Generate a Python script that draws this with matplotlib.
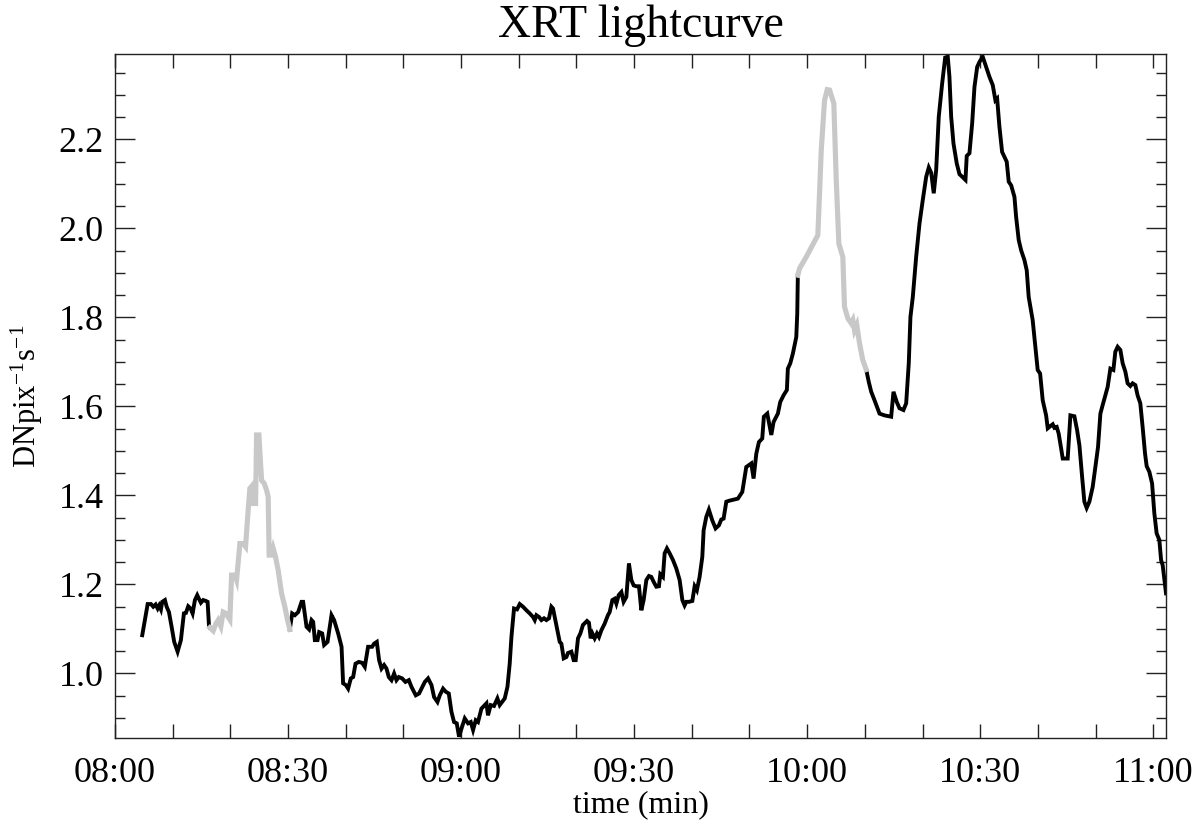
import numpy as np
import matplotlib
matplotlib.use("Agg")
import matplotlib.pyplot as plt
from matplotlib.ticker import MultipleLocator, FixedLocator, FixedFormatter

# ---- data: minutes after 08:00 and XRT intensity (DN pix^-1 s^-1) ----
minutes = [
    4.73, 5.67, 6.24, 6.64, 7.05, 7.40, 7.67, 7.97, 8.19, 8.66, 8.96, 9.36, 9.82, 10.27, 10.86,
    11.43, 11.95, 12.30, 12.70, 13.11, 13.46, 13.86, 14.26, 14.55, 14.90, 15.30, 15.77, 16.06,
    16.29, 16.46,
    17.03, 17.50, 17.90, 18.36, 18.76, 19.23, 19.92, 20.22, 20.79, 21.08, 21.66, 22.23, 22.64,
    23.09, 23.39, 23.79, 23.96, 24.38, 24.55, 24.95, 25.17, 25.42, 25.87, 26.28, 26.56, 26.73,
    27.15, 27.43, 27.84, 28.29, 28.88, 29.45, 29.92, 30.32,
    30.72, 31.19, 31.76, 32.35, 32.62, 33.21, 33.66, 34.08, 34.36, 34.65, 35.12, 35.40, 35.92,
    36.26, 36.85, 37.54, 37.99, 38.69, 39.28, 39.55, 40.02, 40.42, 40.89, 41.29, 41.70, 42.27,
    42.85, 43.31, 43.88, 44.58, 44.92, 45.39, 45.79, 46.21, 46.66, 47.07, 47.47, 47.94, 48.39,
    48.80, 49.20, 49.78, 50.36, 50.94, 51.40, 52.15, 52.72, 53.14, 53.71, 54.28, 54.87, 55.32,
    55.91, 56.31, 56.88, 57.35, 57.87, 58.33, 58.78, 59.25, 59.65, 60.07, 60.64, 61.21, 61.68,
    62.08, 62.54, 62.94, 63.53, 64.10, 64.40, 64.67, 65.14, 65.71, 66.30, 66.70, 67.10, 67.57,
    68.04, 68.43, 68.73, 69.18, 69.70, 70.17, 70.74, 71.33, 71.90, 72.47, 72.77, 73.06, 73.51,
    73.93, 74.38, 74.79, 75.24, 75.66, 75.94, 76.40, 76.80, 77.10, 77.39, 77.79, 78.26, 78.53,
    79.12, 79.52, 79.87, 80.27, 80.68, 81.13, 81.83, 82.17, 82.47, 82.76, 83.16, 83.56, 83.91,
    84.32, 84.89, 85.46, 85.76, 86.23, 86.63, 86.92, 87.32, 87.79, 88.18, 88.65, 89.10, 89.52,
    89.92, 90.38, 90.84, 91.25, 91.65, 92.12, 92.57, 92.98, 93.38, 93.85, 94.30, 94.54, 94.99,
    95.29, 95.69, 96.16, 96.73, 97.31, 97.89, 98.36, 98.75, 99.05, 99.50, 100.09, 100.49,
    100.88, 101.35, 101.82, 102.05, 102.51, 102.96, 103.55, 104.12, 104.70, 105.11, 105.51,
    105.98, 106.43, 107.99, 108.75, 109.44, 110.31, 110.71, 111.18, 111.63, 112.21, 112.49,
    113.08, 113.78, 114.17, 114.92, 115.33, 115.90, 116.48, 116.65, 117.07, 117.52, 118.11,
    118.28, 118.38,
    118.67, 119.84, 121.85, 122.44, 123.01, 123.48, 123.88, 124.62, 125.04, 125.49, 126.18,
    126.47, 127.05, 127.63, 127.91, 128.21, 128.60, 129.07, 129.64, 130.23,
    130.68, 131.10, 131.67, 132.54, 133.40, 134.56, 134.96, 135.53, 136.00, 136.69, 137.16,
    137.61, 137.90, 138.31, 138.89, 139.47, 140.04, 140.63, 141.08, 141.50, 141.94, 142.36,
    142.81, 143.40, 143.92, 144.37, 144.66, 144.96, 145.36, 145.93, 146.40, 146.97, 147.44,
    147.66, 148.13, 148.60, 149.00, 149.47, 149.86, 150.43, 151.02, 151.59, 152.17, 152.63,
    152.93, 153.33, 153.79, 154.19, 154.59, 154.94, 155.36, 155.93, 156.22, 156.67, 157.09,
    157.66, 158.06, 158.40, 159.09, 159.96, 160.38, 160.83, 161.42, 161.70, 162.17, 162.57,
    162.86, 163.26, 163.60, 164.02, 164.30, 165.16, 165.63, 166.32, 166.79, 167.19, 167.66,
    168.05, 168.45, 168.92, 169.49, 169.96, 170.42, 170.83, 171.22, 171.69, 172.09, 172.56,
    173.08, 173.42, 173.82, 174.29, 174.69, 175.16, 175.55, 176.02, 176.42, 176.89, 177.28,
    177.75, 178.15, 178.57, 178.85, 179.32, 179.79, 180.18, 180.58, 181.05, 181.35, 181.63,
    182.21,
]
intensity = [
    1.086, 1.156, 1.156, 1.150, 1.155, 1.146, 1.153, 1.144, 1.161, 1.165, 1.150, 1.138, 1.105,
    1.071, 1.049, 1.075, 1.135, 1.136, 1.151, 1.146, 1.135, 1.165, 1.176, 1.168, 1.159, 1.165,
    1.163, 1.161, 1.109, 1.103,
    1.096, 1.112, 1.120, 1.106, 1.138, 1.135, 1.121, 1.221, 1.221, 1.210, 1.292, 1.292, 1.285,
    1.367, 1.416, 1.422, 1.382, 1.382, 1.536, 1.536, 1.487, 1.434, 1.427, 1.412, 1.397, 1.266,
    1.266, 1.281, 1.262, 1.232, 1.180, 1.150, 1.120, 1.099,
    1.135, 1.131, 1.138, 1.161, 1.161, 1.105, 1.099, 1.120, 1.116, 1.075, 1.075, 1.093, 1.090,
    1.064, 1.071, 1.131, 1.120, 1.090, 1.060, 0.978, 0.974, 0.966, 0.989, 0.992, 1.022, 1.026,
    1.024, 1.015, 1.060, 1.060, 1.067, 1.071, 1.030, 1.011, 1.019, 1.011, 0.992, 0.985, 1.000,
    0.985, 0.992, 0.989, 0.981, 0.985, 0.970, 0.951, 0.955, 0.966, 0.981, 0.989, 0.974, 0.947,
    0.936, 0.951, 0.966, 0.959, 0.955, 0.914, 0.891, 0.888, 0.858, 0.876, 0.899, 0.888, 0.891,
    0.873, 0.895, 0.891, 0.921, 0.929, 0.933, 0.906, 0.929, 0.927, 0.944, 0.929, 0.936, 0.944,
    0.970, 1.022, 1.082, 1.146, 1.144, 1.156, 1.150, 1.142, 1.135, 1.127, 1.120, 1.131, 1.127,
    1.120, 1.124, 1.120, 1.124, 1.150, 1.146, 1.116, 1.090, 1.071, 1.067, 1.034, 1.037, 1.046,
    1.049, 1.030, 1.030, 1.079, 1.090, 1.109, 1.118, 1.114, 1.079, 1.090, 1.079, 1.090, 1.082,
    1.097, 1.112, 1.131, 1.138, 1.165, 1.168, 1.157, 1.176, 1.183, 1.161, 1.172, 1.247, 1.210,
    1.198, 1.196, 1.196, 1.142, 1.165, 1.210, 1.219, 1.217, 1.206, 1.195, 1.196, 1.223, 1.217,
    1.270, 1.281, 1.270, 1.255, 1.236, 1.210, 1.165, 1.153, 1.161, 1.161, 1.163, 1.196, 1.187,
    1.217, 1.262, 1.322, 1.352, 1.368, 1.344, 1.326, 1.333, 1.346, 1.348, 1.386, 1.388, 1.393,
    1.408, 1.464, 1.472, 1.438, 1.494, 1.520, 1.528, 1.577, 1.584, 1.536, 1.565, 1.584, 1.610,
    1.625, 1.637, 1.685, 1.697, 1.719, 1.756, 1.809, 1.895,
    1.910, 1.936, 1.985, 2.176, 2.288, 2.312, 2.311, 2.281, 2.108, 1.966, 1.936, 1.824, 1.798,
    1.787, 1.794, 1.771, 1.783, 1.742, 1.704, 1.683,
    1.655, 1.633, 1.614, 1.584, 1.580, 1.577, 1.633, 1.610, 1.596, 1.592, 1.607, 1.697, 1.801,
    1.846, 1.936, 2.011, 2.064, 2.116, 2.137, 2.125, 2.079, 2.131, 2.251, 2.326, 2.384, 2.386,
    2.341, 2.251, 2.191, 2.146, 2.122, 2.115, 2.109, 2.163, 2.169, 2.236, 2.318, 2.363, 2.374,
    2.386, 2.363, 2.341, 2.322, 2.288, 2.292, 2.228, 2.172, 2.161, 2.150, 2.105, 2.097, 2.071,
    2.026, 1.974, 1.951, 1.929, 1.906, 1.846, 1.794, 1.682, 1.674, 1.614, 1.580, 1.551, 1.556,
    1.560, 1.552, 1.554, 1.539, 1.506, 1.483, 1.483, 1.580, 1.578, 1.547, 1.513, 1.442, 1.386,
    1.372, 1.386, 1.419, 1.464, 1.509, 1.584, 1.603, 1.625, 1.644, 1.685, 1.682, 1.723, 1.734,
    1.727, 1.697, 1.678, 1.652, 1.646, 1.652, 1.648, 1.625, 1.607, 1.554, 1.494, 1.466, 1.453,
    1.427, 1.360, 1.315, 1.300, 1.255, 1.243, 1.180,
]
# intervals (minutes after 08:00) drawn in grey
grey_windows = [(16.46, 30.32), (118.38, 130.23)]

tick_minutes = [0, 30, 60, 90, 120, 150, 180]
tick_labels = ["08:00", "08:30", "09:00", "09:30", "10:00", "10:30", "11:00"]
y_ticks = [1.0, 1.2, 1.4, 1.6, 1.8, 2.0, 2.2]

# ---- plot ----
plt.rcParams['font.family'] = ['Liberation Serif', 'DejaVu Serif']
plt.rcParams['mathtext.fontset'] = 'stix'

t = np.asarray(minutes)
v = np.asarray(intensity)

fig = plt.figure(figsize=(12, 8.36), dpi=100)
ax = fig.add_axes([0.0958, 0.1172, 0.8759, 0.8182])

# black parts: split at grey windows (sharing boundary points)
edges = [t[0]] + [e for w in grey_windows for e in w] + [t[-1]]
for lo, hi in zip(edges[0::2], edges[1::2]):
    m = (t >= lo - 1e-9) & (t <= hi + 1e-9)
    ax.plot(t[m], v[m], color='black', lw=2.8, solid_joinstyle='miter', zorder=2)
for lo, hi in grey_windows:
    m = (t >= lo - 1e-9) & (t <= hi + 1e-9)
    ax.plot(t[m], v[m], color='#c8c8c8', lw=3.7, solid_joinstyle='miter', zorder=3)

ax.set_xlim(0, t[-1])
ax.set_ylim(v.min() - 0.003, v.max() + 0.006)

ax.xaxis.set_major_locator(FixedLocator(tick_minutes))
ax.xaxis.set_major_formatter(FixedFormatter(tick_labels))
ax.xaxis.set_minor_locator(MultipleLocator(10))
ax.yaxis.set_major_locator(FixedLocator(y_ticks))
ax.yaxis.set_major_formatter(FixedFormatter([f"{y:.1f}" for y in y_ticks]))
ax.yaxis.set_minor_locator(MultipleLocator(0.05))

ax.tick_params(axis='both', which='both', direction='in', top=True, right=True,
               width=1.0, color='#222222', labelsize=26)
ax.tick_params(axis='x', which='both', length=10, pad=14)
ax.tick_params(axis='y', which='major', length=14.5, pad=8)
ax.tick_params(axis='y', which='minor', length=7.2)
for s in ax.spines.values():
    s.set_linewidth(1.0)
    s.set_color('#222222')

ax.set_title("XRT lightcurve", fontsize=33, pad=12)
ax.set_xlabel("time (min)", fontsize=23, labelpad=0)
ax.set_ylabel("DNpix$^{\\mathregular{-1}}$s$^{\\mathregular{-1}}$", fontsize=22, labelpad=10)

fig.savefig("out.png", dpi=100)
